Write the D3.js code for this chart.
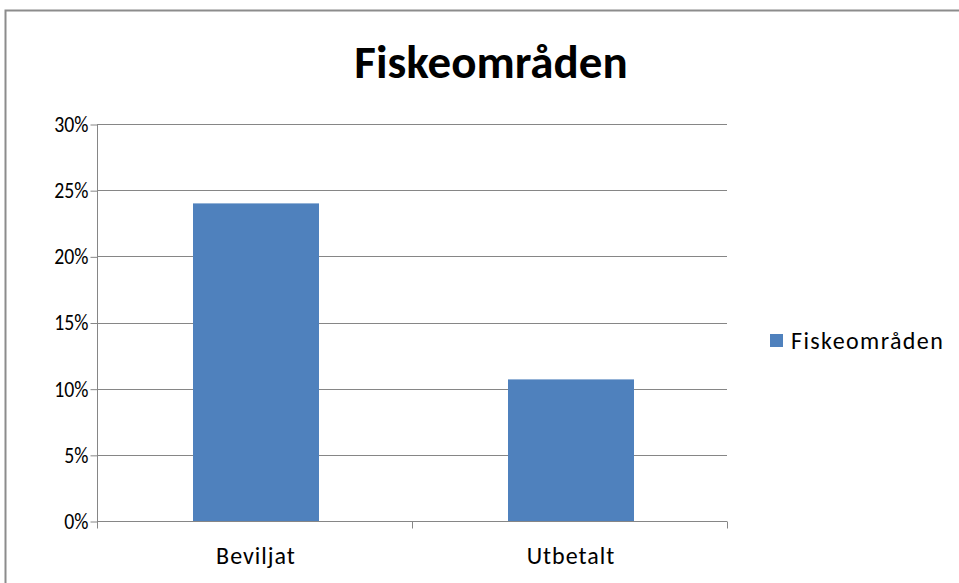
<!DOCTYPE html>
<html>
<head>
<meta charset="utf-8">
<script src="https://cdn.jsdelivr.net/npm/d3@7"></script>
<style>
  body { margin: 0; background: #fff; }
  svg { display: block; }
</style>
</head>
<body>
<svg id="chart"></svg>
<script>
// chart data
var categories = ["Beviljat", "Utbetalt"];
var values = [0.24, 0.107];
var yTicks = [0, 0.05, 0.10, 0.15, 0.20, 0.25, 0.30];
var seriesName = "Fiskeområden";
var title = "Fiskeområden";

var dimensions = {
    width: 959,
    height: 583,
    margin: { top: 124, bottom: 62, left: 97, right: 232 }
};

var font = "Carlito, 'Open Sans', 'Liberation Sans', sans-serif";

var svg = d3.select("#chart")
    .attr("width", dimensions.width)
    .attr("height", dimensions.height);

// outer frame (cut off at right and bottom)
svg.append("rect")
    .attr("x", 5.5)
    .attr("y", 10.5)
    .attr("width", 1000)
    .attr("height", 1000)
    .attr("fill", "#fff")
    .attr("stroke", "#8c8c8c")
    .attr("stroke-width", 2);

var xScale = d3.scaleBand()
    .domain(categories)
    .range([dimensions.margin.left, dimensions.width - dimensions.margin.right])
    .paddingInner(0.6)
    .paddingOuter(0.3);

var yScale = d3.scaleLinear()
    .domain([0, 0.30])
    .range([dimensions.height - dimensions.margin.bottom, dimensions.margin.top]);

var x0 = dimensions.margin.left;
var x1 = dimensions.width - dimensions.margin.right;
var yBase = dimensions.height - dimensions.margin.bottom;

// gridlines
svg.append("g")
    .selectAll("line")
    .data(yTicks.slice(1))
    .enter()
    .append("line")
    .attr("x1", x0)
    .attr("x2", x1)
    .attr("y1", d => Math.round(yScale(d)) + 0.5)
    .attr("y2", d => Math.round(yScale(d)) + 0.5)
    .attr("stroke", "#868686")
    .attr("stroke-width", 1);

// bars
svg.selectAll(".bar")
    .data(values)
    .enter()
    .append("rect")
    .attr("class", "bar")
    .attr("x", (d, i) => xScale(categories[i]) + 1.5)
    .attr("y", d => yScale(d))
    .attr("width", xScale.bandwidth())
    .attr("height", d => yBase - yScale(d))
    .attr("fill", "#4f81bd");

// y axis
var yAxis = d3.axisLeft(yScale)
    .tickValues(yTicks)
    .tickSize(7)
    .tickPadding(2)
    .tickFormat(d3.format(".0%"));
var gy = svg.append("g")
    .attr("transform", `translate(${x0 + 0.5}, 0)`)
    .call(yAxis);
gy.selectAll("line").attr("stroke", "#868686").attr("transform", "translate(0,0.5)");
gy.select(".domain").attr("stroke", "#868686").attr("d", `M0,${dimensions.margin.top}V${yBase}`);
// slightly condensed labels, like the original
gy.selectAll("text")
    .attr("x", 0)
    .attr("transform", "translate(-9,0) scale(0.86,1)")
    .attr("font-family", font)
    .attr("font-size", 23)
    .attr("fill", "#000");

// x axis with boundary ticks
var gx = svg.append("g")
    .attr("transform", `translate(0, ${yBase + 0.5})`);
gx.append("line")
    .attr("x1", x0).attr("x2", x1)
    .attr("stroke", "#868686");
var bounds = [x0, (x0 + x1) / 2, x1];
gx.selectAll(".xtick")
    .data(bounds)
    .enter()
    .append("line")
    .attr("class", "xtick")
    .attr("x1", d => Math.round(d) + 0.5)
    .attr("x2", d => Math.round(d) + 0.5)
    .attr("y1", 0)
    .attr("y2", 7)
    .attr("stroke", "#868686");
gx.selectAll(".xlabel")
    .data(categories)
    .enter()
    .append("text")
    .attr("class", "xlabel")
    .attr("x", d => xScale(d) + xScale.bandwidth() / 2 + 1.5)
    .attr("y", 42)
    .attr("text-anchor", "middle")
    .attr("font-family", font)
    .attr("font-size", 24)
    .attr("letter-spacing", 1)
    .attr("fill", "#000")
    .text(d => d);

// title
svg.append("text")
    .attr("x", 491)
    .attr("y", 78)
    .attr("text-anchor", "middle")
    .attr("font-family", font)
    .attr("font-weight", "bold")
    .attr("font-size", 47)
    .attr("fill", "#000")
    .text(title);

// legend
var legend = svg.append("g")
    .attr("transform", "translate(770, 334)");
legend.append("rect")
    .attr("width", 13)
    .attr("height", 13)
    .attr("fill", "#4f81bd");
legend.append("text")
    .attr("x", 21)
    .attr("y", 6.5)
    .attr("dy", "0.35em")
    .attr("font-family", font)
    .attr("font-size", 24)
    .attr("letter-spacing", 1.4)
    .attr("fill", "#000")
    .text(seriesName);
</script>
</body>
</html>
